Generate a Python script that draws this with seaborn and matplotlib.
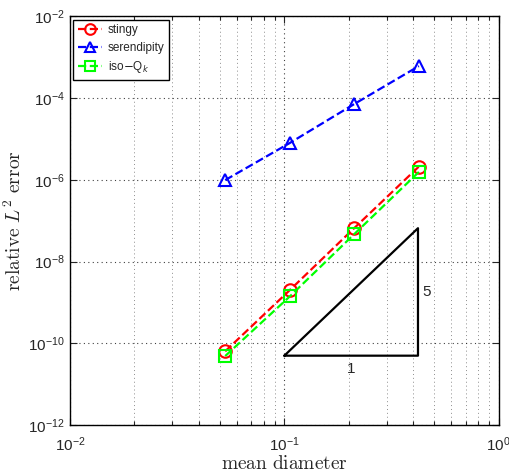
import numpy as np
import pandas as pd
import matplotlib
matplotlib.use('Agg')
import matplotlib.pyplot as plt
import seaborn as sns
from matplotlib.ticker import LogLocator, NullLocator, NullFormatter

# values
diameter = [0.053, 0.106, 0.212, 0.424]
stingy = [6.4e-11, 2.0e-9, 6.6e-8, 2.1e-6]
serendipity = [9.8e-7, 7.9e-6, 7.1e-5, 6.0e-4]
iso_q = [4.9e-11, 1.4e-9, 4.7e-8, 1.55e-6]

# slope triangle (rate 5)
tri_x = [0.1, 0.42, 0.42, 0.1]
tri_y = [5e-11, 5e-11, 5e-11 * 4.2 ** 5, 5e-11]

sns.set_style('ticks')
plt.rcParams['font.family'] = ['Liberation Sans', 'DejaVu Sans']
plt.rcParams['xtick.direction'] = 'in'
plt.rcParams['ytick.direction'] = 'in'

fig = plt.figure(figsize=(5.1, 4.74), dpi=100)
ax = fig.add_axes([0.137, 0.103, 0.841, 0.863])

series = [
    ('stingy', stingy, 'red', 'o'),
    ('serendipity', serendipity, 'blue', '^'),
    (r'iso$-$Q$_k$', iso_q, '#00ff00', 's'),
]
for name, vals, col, mk in series:
    df = pd.DataFrame({'h': diameter, 'err': vals})
    sns.lineplot(data=df, x='h', y='err', ax=ax, color=col, marker=mk,
                 markersize=9, mfc='none', mec=col, mew=1.5,
                 linestyle='--', lw=1.6, label=name)

ax.plot(tri_x, tri_y, color='k', lw=1.6)
ax.text(np.sqrt(0.1 * 0.42), 3.6e-11, '1', ha='center', va='top', fontsize=11)
ax.text(0.44, np.sqrt(5e-11 * tri_y[2]), '5', ha='left', va='center', fontsize=11)

ax.set_xscale('log')
ax.set_yscale('log')
ax.set_xlim(1e-2, 1e0)
ax.set_ylim(1e-12, 1e-2)
ax.set_yticks([1e-12, 1e-10, 1e-8, 1e-6, 1e-4, 1e-2])
ax.yaxis.set_minor_locator(NullLocator())
ax.xaxis.set_minor_locator(LogLocator(base=10, subs=np.arange(2, 10), numticks=20))
ax.xaxis.set_minor_formatter(NullFormatter())

ax.grid(which='major', ls=(0, (1, 3)), color='k', lw=0.8, alpha=0.75)
ax.grid(which='minor', axis='x', ls=(0, (1, 3)), color='0.4', lw=0.7, alpha=0.75)
ax.tick_params(which='both', top=True, right=True, labelsize=11, width=0.8)
ax.tick_params(which='major', length=5)
ax.tick_params(which='minor', length=3)
ax.tick_params(axis='x', which='major', pad=7)
for s in ax.spines.values():
    s.set_visible(True)
    s.set_color('k')
    s.set_linewidth(1.0)

ax.set_xlabel(r'$\mathrm{mean\ diameter}$', fontsize=14, math_fontfamily='cm', labelpad=1)
ax.set_ylabel(r'$\mathrm{relative}\ L^2\ \mathrm{error}$', fontsize=14, math_fontfamily='cm', labelpad=2)

leg = ax.legend(loc='upper left', fontsize=8.5, frameon=True, fancybox=False,
                edgecolor='k', framealpha=1, handlelength=2.0, borderpad=0.4,
                labelspacing=0.45, borderaxespad=0.3, markerscale=0.85,
                handletextpad=0.5)
leg.get_frame().set_linewidth(1.0)

fig.savefig('out.png', dpi=100)
